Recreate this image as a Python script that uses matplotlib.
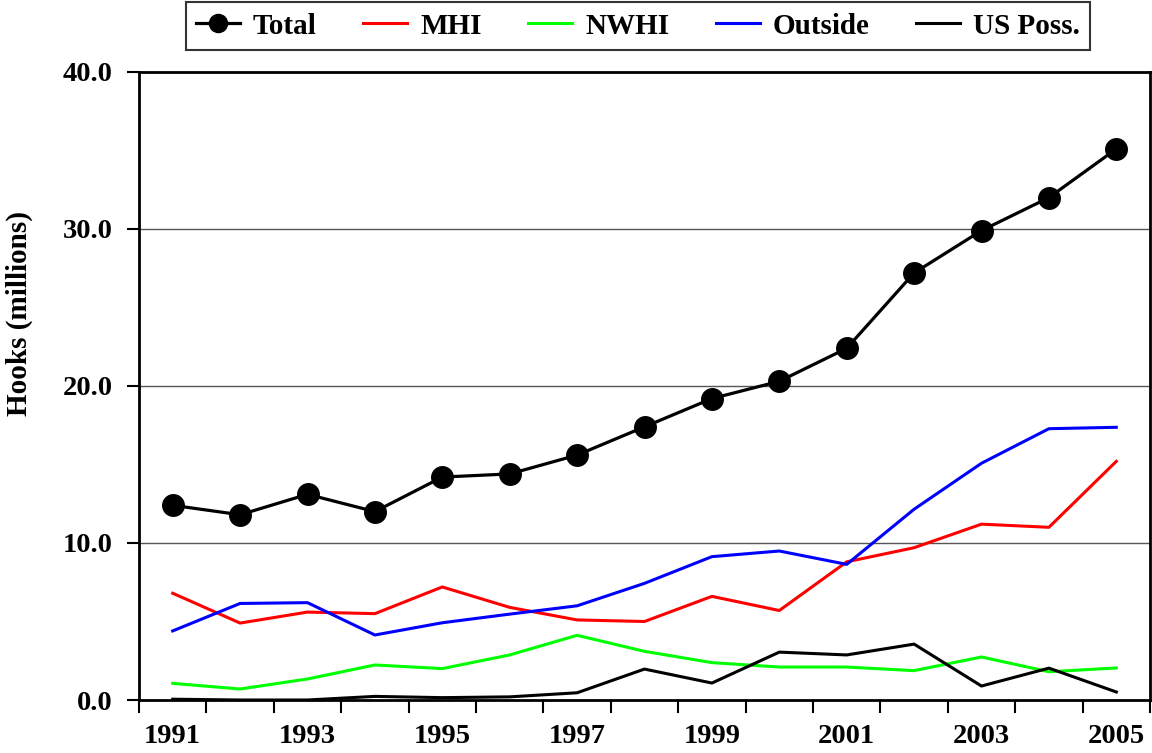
import matplotlib.pyplot as plt
import numpy as np
from matplotlib.ticker import FixedLocator

years = np.arange(1991, 2006)
total = [12.4, 11.8, 13.1, 12.0, 14.2, 14.4, 15.6, 17.4, 19.2, 20.3, 22.4, 27.2, 29.9, 32.0, 35.1]
mhi = [6.8, 4.9, 5.6, 5.5, 7.2, 5.9, 5.1, 5.0, 6.6, 5.7, 8.8, 9.7, 11.2, 11.0, 15.2]
nwhi = [1.06, 0.70, 1.34, 2.23, 2.0, 2.87, 4.12, 3.1, 2.38, 2.1, 2.1, 1.87, 2.74, 1.8, 2.04]
outside = [4.4, 6.15, 6.2, 4.14, 4.92, 5.47, 6.0, 7.43, 9.13, 9.49, 8.64, 12.15, 15.08, 17.28, 17.37]
us_poss = [0.05, 0.0, 0.0, 0.23, 0.15, 0.2, 0.46, 1.97, 1.08, 3.05, 2.87, 3.56, 0.89, 2.03, 0.51]
year_labels = [str(y) for y in range(1991, 2006, 2)]
y_ticks = [0, 10, 20, 30, 40]

plt.rcParams["font.family"] = ["Liberation Serif", "DejaVu Serif"]
plt.rcParams["font.weight"] = "bold"

fig = plt.figure(figsize=(11.52, 7.53), dpi=100)
ax = fig.add_axes([139 / 1152, 1 - 700 / 753, (1150 - 139) / 1152, (700 - 72) / 753])

for y in y_ticks[1:-1]:
    ax.axhline(y, color="#555555", lw=1, zorder=1)

ax.plot(years, total, color="black", lw=2.3, marker="o", markersize=15.5, label="Total", zorder=5)
ax.plot(years, mhi, color="#ff0000", lw=2.2, label="MHI", zorder=3)
ax.plot(years, nwhi, color="#00ff00", lw=2.2, label="NWHI", zorder=3)
ax.plot(years, outside, color="#0000ff", lw=2.2, label="Outside", zorder=3)
ax.plot(years, us_poss, color="black", lw=2.2, label="US Poss.", zorder=4)

ax.set_xlim(1990.5, 2005.5)
ax.set_ylim(0, 40)

ax.set_xticks(range(1991, 2006, 2))
ax.set_xticklabels(year_labels, fontsize=20.5, fontweight="bold")
ax.xaxis.set_minor_locator(FixedLocator(np.arange(1990.5, 2006, 1)))
ax.tick_params(axis="x", which="major", length=0, pad=17)
ax.tick_params(axis="x", which="minor", length=9, width=1.5, direction="out")

ax.set_yticks(y_ticks)
ax.set_yticklabels([f"{v:.1f}" for v in y_ticks], fontsize=20.5, fontweight="bold")
ax.tick_params(axis="y", length=9, width=1.5, direction="out", pad=10)

for sp in ax.spines.values():
    sp.set_linewidth(2)
    sp.set_color("black")

ax.set_ylabel("Hooks (millions)", fontsize=21, fontweight="bold", labelpad=22)
ax.yaxis.set_label_coords(-0.105, 0.616)

leg = fig.legend(loc="center", bbox_to_anchor=(638 / 1152, 1 - 26 / 753), ncol=5,
                 frameon=True, fancybox=False, edgecolor="black",
                 handlelength=1.5, columnspacing=1.6, handletextpad=0.45,
                 borderpad=0.35, prop={"weight": "bold", "size": 21})
leg.get_frame().set_linewidth(1.5)
for h in leg.legend_handles:
    h.set_markersize(13)

fig.savefig("out.png", dpi=100)
